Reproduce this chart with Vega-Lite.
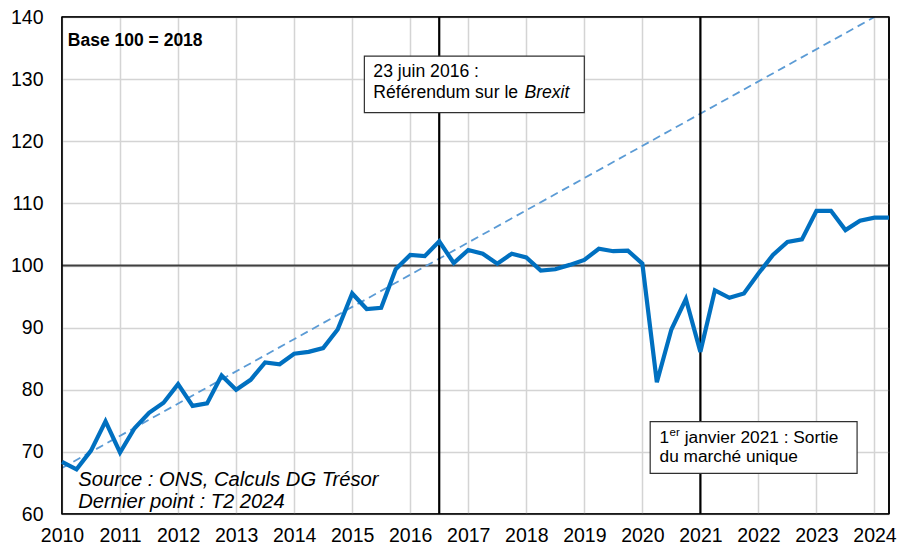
{
  "$schema": "https://vega.github.io/schema/vega-lite/v6.json",
  "width": 827,
  "height": 497,
  "autosize": {"type": "none"},
  "padding": {"left": 62, "top": 17, "right": 9, "bottom": 33},
  "background": "white",
  "config": {
    "view": {"stroke": "#000000", "strokeWidth": 1.5},
    "font": "Liberation Sans",
    "axis": {
      "labelFont": "Liberation Sans",
      "labelFontSize": 19.5,
      "labelColor": "#000000",
      "ticks": false,
      "tickSize": 0,
      "domain": false,
      "grid": true,
      "gridColor": "#d4d4d4",
      "gridWidth": 1.5,
      "title": null,
      "labelFlush": false,
      "labelOverlap": false
    }
  },
  "datasets": {
    "series": [
      {"t": 2010.00, "v": 68.4}, {"t": 2010.25, "v": 67.2}, {"t": 2010.50, "v": 70.2}, {"t": 2010.75, "v": 74.9},
      {"t": 2011.00, "v": 69.9}, {"t": 2011.25, "v": 73.8}, {"t": 2011.50, "v": 76.3}, {"t": 2011.75, "v": 77.9},
      {"t": 2012.00, "v": 80.9}, {"t": 2012.25, "v": 77.4}, {"t": 2012.50, "v": 77.8}, {"t": 2012.75, "v": 82.3},
      {"t": 2013.00, "v": 80.0}, {"t": 2013.25, "v": 81.6}, {"t": 2013.50, "v": 84.4}, {"t": 2013.75, "v": 84.1},
      {"t": 2014.00, "v": 85.8}, {"t": 2014.25, "v": 86.1}, {"t": 2014.50, "v": 86.7}, {"t": 2014.75, "v": 89.7},
      {"t": 2015.00, "v": 95.5}, {"t": 2015.25, "v": 93.0}, {"t": 2015.50, "v": 93.2}, {"t": 2015.75, "v": 99.4},
      {"t": 2016.00, "v": 101.7}, {"t": 2016.25, "v": 101.5}, {"t": 2016.50, "v": 103.9}, {"t": 2016.75, "v": 100.4},
      {"t": 2017.00, "v": 102.5}, {"t": 2017.25, "v": 101.9}, {"t": 2017.50, "v": 100.3}, {"t": 2017.75, "v": 101.9},
      {"t": 2018.00, "v": 101.3}, {"t": 2018.25, "v": 99.2}, {"t": 2018.50, "v": 99.4}, {"t": 2018.75, "v": 100.1},
      {"t": 2019.00, "v": 100.9}, {"t": 2019.25, "v": 102.7}, {"t": 2019.50, "v": 102.3}, {"t": 2019.75, "v": 102.4},
      {"t": 2020.00, "v": 100.3}, {"t": 2020.25, "v": 81.2}, {"t": 2020.50, "v": 89.7}, {"t": 2020.75, "v": 94.6},
      {"t": 2021.00, "v": 86.1}, {"t": 2021.25, "v": 96.0}, {"t": 2021.50, "v": 94.8}, {"t": 2021.75, "v": 95.5},
      {"t": 2022.00, "v": 98.7}, {"t": 2022.25, "v": 101.7}, {"t": 2022.50, "v": 103.8}, {"t": 2022.75, "v": 104.2},
      {"t": 2023.00, "v": 108.8}, {"t": 2023.25, "v": 108.8}, {"t": 2023.50, "v": 105.7}, {"t": 2023.75, "v": 107.2},
      {"t": 2024.00, "v": 107.7}, {"t": 2024.25, "v": 107.7}
    ],
    "trend": [
      {"t": 2010.0, "v": 67.4},
      {"t": 2024.0, "v": 140.0}
    ],
    "one": [{}]
  },
  "encoding": {
    "x": {
      "type": "quantitative",
      "scale": {"domain": [2010, 2024.25], "nice": false, "zero": false},
      "axis": {"values": [2010, 2011, 2012, 2013, 2014, 2015, 2016, 2017, 2018, 2019, 2020, 2021, 2022, 2023, 2024], "format": "d", "labelPadding": 12}
    },
    "y": {
      "type": "quantitative",
      "scale": {"domain": [60, 140], "nice": false, "zero": false},
      "axis": {"values": [60, 70, 80, 90, 100, 110, 120, 130, 140], "labelPadding": 19}
    }
  },
  "layer": [
    {
      "data": {"name": "one"},
      "mark": {"type": "rule", "color": "#404040", "strokeWidth": 1.8},
      "encoding": {"y": {"datum": 100}, "x": null}
    },
    {
      "data": {"name": "trend"},
      "mark": {"type": "line", "color": "#5B9BD5", "strokeWidth": 1.8, "strokeDash": [8, 5], "clip": true},
      "encoding": {"x": {"field": "t", "type": "quantitative"}, "y": {"field": "v", "type": "quantitative"}}
    },
    {
      "data": {"name": "one"},
      "mark": {"type": "rule", "color": "#000000", "strokeWidth": 2.2},
      "encoding": {"x": {"datum": 2016.5}, "y": null}
    },
    {
      "data": {"name": "one"},
      "mark": {"type": "rule", "color": "#000000", "strokeWidth": 2.2},
      "encoding": {"x": {"datum": 2021}, "y": null}
    },
    {
      "data": {"name": "one"},
      "mark": {"type": "rule", "color": "#000000", "strokeWidth": 1.6},
      "encoding": {"x": {"datum": 2010}, "y": null}
    },
    {
      "data": {"name": "one"},
      "mark": {"type": "rule", "color": "#000000", "strokeWidth": 1.6},
      "encoding": {"x": {"datum": 2024.25}, "y": null}
    },
    {
      "data": {"name": "one"},
      "mark": {"type": "rule", "color": "#000000", "strokeWidth": 1.6},
      "encoding": {"y": {"datum": 60}, "x": null}
    },
    {
      "data": {"name": "one"},
      "mark": {"type": "rule", "color": "#000000", "strokeWidth": 1.6},
      "encoding": {"y": {"datum": 140}, "x": null}
    },
    {
      "data": {"name": "series"},
      "mark": {"type": "line", "color": "#0070C0", "strokeWidth": 4.2, "strokeJoin": "miter"},
      "encoding": {"x": {"field": "t", "type": "quantitative"}, "y": {"field": "v", "type": "quantitative"}}
    },
    {
      "data": {"name": "one"},
      "mark": {"type": "rect", "fill": "white", "stroke": "#303030", "strokeWidth": 1.2},
      "encoding": {"x": {"datum": 2015.21}, "x2": {"datum": 2019.0}, "y": {"datum": 133.7}, "y2": {"datum": 124.6}}
    },
    {
      "data": {"name": "one"},
      "mark": {"type": "rect", "fill": "white", "stroke": "#303030", "strokeWidth": 1.2},
      "encoding": {"x": {"datum": 2020.135}, "x2": {"datum": 2023.70}, "y": {"datum": 74.86}, "y2": {"datum": 66.55}}
    },
    {
      "data": {"name": "one"},
      "mark": {"type": "text", "text": "Base 100 = 2018", "font": "Liberation Sans", "fontWeight": "bold", "fontSize": 17.5, "align": "left", "baseline": "alphabetic", "color": "#000000"},
      "encoding": {"x": {"datum": 2010.1}, "y": {"datum": 135.3}}
    },
    {
      "data": {"name": "one"},
      "mark": {"type": "text", "text": ["Source : ONS, Calculs DG Trésor", "Dernier point : T2 2024"], "lineHeight": 22, "font": "Liberation Sans", "fontStyle": "italic", "fontSize": 20.2, "align": "left", "baseline": "alphabetic", "color": "#000000"},
      "encoding": {"x": {"datum": 2010.28}, "y": {"datum": 64.5}}
    },
    {
      "data": {"name": "one"},
      "mark": {"type": "text", "text": "23 juin 2016 :", "fontSize": 17.6, "align": "left", "baseline": "alphabetic", "color": "#000000"},
      "encoding": {"x": {"datum": 2015.365}, "y": {"datum": 130.32}}
    },
    {
      "data": {"name": "one"},
      "mark": {"type": "text", "text": "Référendum sur le", "fontSize": 17.6, "align": "left", "baseline": "alphabetic", "color": "#000000"},
      "encoding": {"x": {"datum": 2015.365}, "y": {"datum": 126.94}}
    },
    {
      "data": {"name": "one"},
      "mark": {"type": "text", "text": "Brexit", "fontSize": 17.6, "fontStyle": "italic", "align": "left", "baseline": "alphabetic", "color": "#000000"},
      "encoding": {"x": {"datum": 2017.968}, "y": {"datum": 126.94}}
    },
    {
      "data": {"name": "one"},
      "mark": {"type": "text", "text": "1", "fontSize": 17.3, "align": "left", "baseline": "alphabetic", "color": "#000000"},
      "encoding": {"x": {"datum": 2020.296}, "y": {"datum": 71.38}}
    },
    {
      "data": {"name": "one"},
      "mark": {"type": "text", "text": "er", "fontSize": 11.5, "align": "left", "baseline": "alphabetic", "color": "#000000"},
      "encoding": {"x": {"datum": 2020.468}, "y": {"datum": 72.6}}
    },
    {
      "data": {"name": "one"},
      "mark": {"type": "text", "text": "janvier 2021 : Sortie", "fontSize": 17.3, "align": "left", "baseline": "alphabetic", "color": "#000000"},
      "encoding": {"x": {"datum": 2020.73}, "y": {"datum": 71.38}}
    },
    {
      "data": {"name": "one"},
      "mark": {"type": "text", "text": "du marché unique", "fontSize": 17.3, "align": "left", "baseline": "alphabetic", "color": "#000000"},
      "encoding": {"x": {"datum": 2020.296}, "y": {"datum": 68.42}}
    }
  ]
}
